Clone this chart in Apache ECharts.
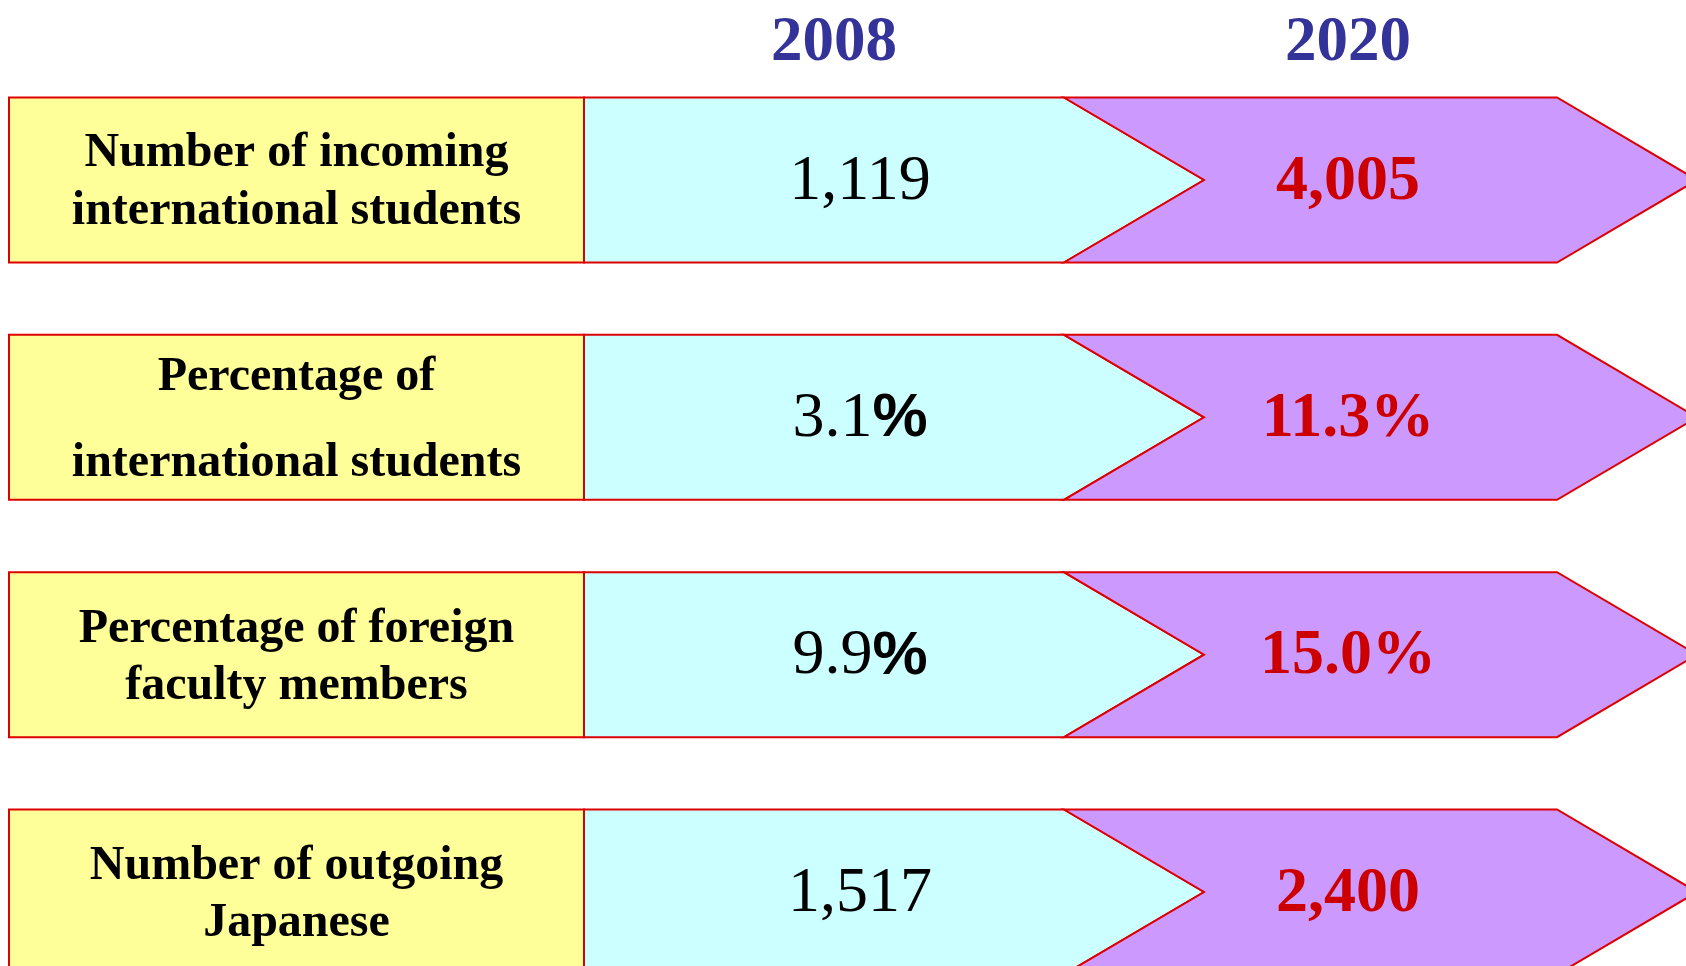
<!DOCTYPE html>
<html>
<head>
<meta charset="utf-8">
<script src="https://cdn.jsdelivr.net/npm/echarts@6/dist/echarts.min.js"></script>
<style>
html,body{margin:0;padding:0;background:#ffffff;}
#chart{width:1686px;height:966px;}
</style>
</head>
<body>
<div id="chart"></div>
<script>
// ---- data ----
const categories = [
  'Number of incoming\ninternational students',
  'Percentage of\ninternational students',
  'Percentage of foreign\nfaculty members',
  'Number of outgoing\nJapanese'
];
const years = ['2008', '2020'];
const values2008 = [1119, 3.1, 9.9, 1517];
const values2020 = [4005, 11.3, 15.0, 2400];
const units = ['', '%', '%', ''];

// ---- style / layout ----
const SERIF = '"Liberation Serif","Times New Roman",serif';
const SANS = '"Liberation Sans",Arial,sans-serif';
const RED_LINE = '#dd0000';
const labelLineHeights = [58, 86, 57, 57];
const ROW_H = 165;
const X = { labL: 9, labR: 584, mid: 1064, notch: 1204, right: 1557, tipDx: 140 };

function fmtNum(v, u) {
  return u === '%' ? v.toFixed(1) : v.toLocaleString('en-US');
}

const chart = echarts.init(document.getElementById('chart'), null, { renderer: 'canvas' });

function rowBox(api, i) {
  const c = api.coord([0, i]);
  return { cy: c[1], top: c[1] - ROW_H / 2, bot: c[1] + ROW_H / 2 };
}

const option = {
  animation: false,
  backgroundColor: '#ffffff',
  grid: { left: 0, right: 0, top: 180, bottom: 74 },
  xAxis: { type: 'value', min: 0, max: 1686, show: false },
  yAxis: { type: 'category', data: categories, inverse: true, boundaryGap: false, show: false },
  graphic: [
    { type: 'text', x: 834, y: 44, style: { text: years[0], fill: '#333399', font: 'bold 63px ' + SERIF, align: 'center', verticalAlign: 'middle' } },
    { type: 'text', x: 1348, y: 44, style: { text: years[1], fill: '#333399', font: 'bold 63px ' + SERIF, align: 'center', verticalAlign: 'middle' } }
  ],
  series: [
    {
      type: 'custom', clip: false, z: 1,
      data: categories.map((c, i) => [i]),
      encode: { y: 0 },
      renderItem: function (params, api) {
        const i = api.value(0);
        const b = rowBox(api, i);
        return {
          type: 'group',
          children: [
            { type: 'rect', shape: { x: X.labL, y: b.top, width: X.labR - X.labL, height: ROW_H },
              style: { fill: '#ffff99', stroke: RED_LINE, lineWidth: 2 } },
            { type: 'text', style: { text: categories[i], x: (X.labL + X.labR) / 2, y: b.cy + 3,
              align: 'center', verticalAlign: 'middle', font: 'bold 48px ' + SERIF,
              lineHeight: labelLineHeights[i], fill: '#000000' } }
          ]
        };
      }
    },
    {
      type: 'custom', clip: false, z: 2,
      data: values2008.map((v, i) => [i, v]),
      encode: { y: 0 },
      renderItem: function (params, api) {
        const i = api.value(0);
        const v = api.value(1);
        const b = rowBox(api, i);
        const u = units[i];
        return {
          type: 'group',
          children: [
            { type: 'polygon', shape: { points: [[X.labR, b.top], [X.mid, b.top], [X.notch, b.cy], [X.mid, b.bot], [X.labR, b.bot]] },
              style: { fill: '#ccffff', stroke: RED_LINE, lineWidth: 2 } },
            { type: 'text', style: { text: '{n|' + fmtNum(v, u) + '}' + (u ? '{p|' + u + '}' : ''),
              x: 860, y: b.cy + 2, align: 'center', verticalAlign: 'middle',
              rich: {
                n: { font: '64px ' + SERIF, fill: '#000000' },
                p: { font: 'bold 62px ' + SANS, fill: '#000000' }
              } } }
          ]
        };
      }
    },
    {
      type: 'custom', clip: false, z: 3,
      data: values2020.map((v, i) => [i, v]),
      encode: { y: 0 },
      renderItem: function (params, api) {
        const i = api.value(0);
        const v = api.value(1);
        const b = rowBox(api, i);
        const u = units[i];
        return {
          type: 'group',
          children: [
            { type: 'polygon', shape: { points: [[X.mid, b.top], [X.right, b.top], [X.right + X.tipDx, b.cy], [X.right, b.bot], [X.mid, b.bot], [X.notch, b.cy]] },
              style: { fill: '#cc99ff', stroke: RED_LINE, lineWidth: 2 } },
            { type: 'text', style: { text: fmtNum(v, u) + u,
              x: 1348, y: b.cy + 2, align: 'center', verticalAlign: 'middle',
              font: 'bold 64px ' + SERIF, fill: '#cc0000' } }
          ]
        };
      }
    }
  ]
};
chart.setOption(option);
</script>
</body>
</html>
